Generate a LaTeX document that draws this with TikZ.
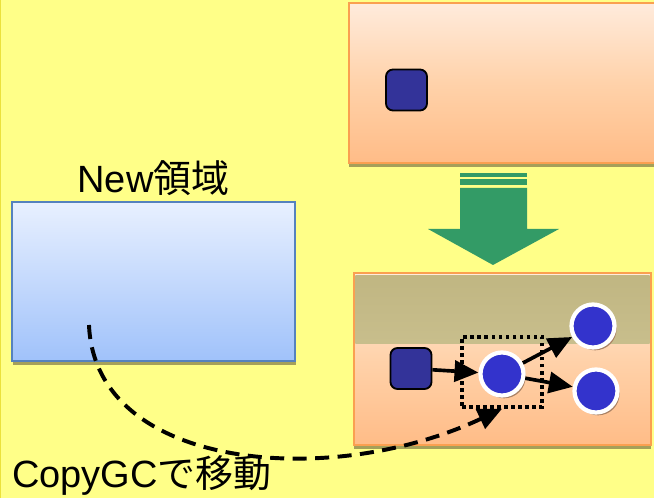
\documentclass[tikz,border=0pt]{standalone}
\usepackage{fontspec}
\setmainfont{Liberation Sans}
\newfontfamily\jpfont{Noto Sans CJK JP}
\usetikzlibrary{arrows.meta,positioning,shadows}

\definecolor{bgyellow}{RGB}{255,255,136}
\definecolor{edgeyellow}{RGB}{235,225,60}
\definecolor{peachtop}{RGB}{255,235,220}
\definecolor{peachmid}{RGB}{255,210,170}
\definecolor{peachbot}{RGB}{255,188,135}
\definecolor{orangeline}{RGB}{250,160,80}
\definecolor{bandtop}{RGB}{192,182,130}
\definecolor{bandbot}{RGB}{200,190,140}
\definecolor{bluetop}{RGB}{232,240,255}
\definecolor{bluebot}{RGB}{160,194,250}
\definecolor{blueline}{RGB}{85,130,190}
\definecolor{shadowolive}{RGB}{165,160,90}
\definecolor{objdark}{RGB}{51,51,153}
\definecolor{objblue}{RGB}{51,51,204}
\definecolor{objshadow}{RGB}{170,130,100}
\definecolor{movegreen}{RGB}{51,155,102}

\begin{document}
\begin{tikzpicture}[x=0.025cm,y=-0.025cm,semithick]
\tikzstyle{area}=[rectangle,inner sep=0pt,outer sep=0pt,draw=orangeline,line width=1.8pt,shading=axis,top color=peachtop,bottom color=peachbot,middle color=peachmid,drop shadow={shadow xshift=0pt,shadow yshift=-2.5pt,fill=shadowolive,opacity=1}]
\tikzstyle{newarea}=[rectangle,inner sep=0pt,outer sep=0pt,draw=blueline,line width=1.2pt,shading=axis,top color=bluetop,bottom color=bluebot,drop shadow={shadow xshift=1pt,shadow yshift=-2.5pt,fill=shadowolive,opacity=1}]
\tikzstyle{obj}=[rectangle,rounded corners=5pt,minimum size=1.025cm,fill=objdark,draw=black,line width=1.3pt]
\tikzstyle{live}=[circle,minimum size=1.075cm,fill=objblue,draw=white,line width=3pt,drop shadow={shadow xshift=1.5pt,shadow yshift=-2pt,fill=objshadow,opacity=1}]
\tikzstyle{ref}=[-{Triangle[length=17pt,width=15pt]},line width=2.6pt]
\tikzstyle{copy}=[-{Triangle[length=17pt,width=15pt]},line width=2.8pt,dash pattern=on 10pt off 6pt]
\tikzstyle{areatext}=[font=\fontsize{27}{30}\selectfont]

\fill[bgyellow] (0,0) rectangle (654,498);
\useasboundingbox (0,0) rectangle (654,498);
\clip (0,0) rectangle (654,498);
\draw[edgeyellow,line width=1pt] (0,0) -- (0,498);

% before GC
\node[area,minimum width=7.675cm,minimum height=4cm] (before) at (502.5,83) {};
\node[obj] (obj1) at (406.5,90) {};

% green arrow
\fill[movegreen] (460,173) rectangle (527,177);
\fill[movegreen] (460,179) rectangle (527,185);
\fill[movegreen] (460,188) -- (527,188) -- (527,229) -- (559,229) -- (493,265)
  -- (428,229) -- (460,229) -- cycle;

% after GC
\node[area,minimum width=7.425cm,minimum height=4.3cm] (after) at (502.5,359) {};
\node[rectangle,inner sep=0pt,minimum width=7.35cm,minimum height=1.7cm,anchor=north,
  shading=axis,top color=bandtop,bottom color=bandbot] (band) at ([yshift=-1.2pt]after.north) {};
\draw[orangeline,line width=1.8pt] (after.north west) rectangle (after.south east);

\node[draw,dash pattern=on 2.6pt off 2.4pt,line width=2.6pt,minimum width=2cm,minimum height=1.75cm] (sel) at (502,372) {};
\node[obj] (obj2) at (411,368.5) {};
\node[live] (mid) at (502,374) {};
\node[live] (up) at (593,326) {};
\node[live] (down) at (596,391) {};

\path (obj2) edge[ref] (mid);
\path (mid) edge[ref] (up);
\path (mid) edge[ref] (down);

% New area
\node[newarea,minimum width=7.075cm,minimum height=3.975cm] (newgen) at (153.5,281.5) {};
\node[areatext] (newlabel) [above=1pt of newgen] {New{\jpfont 領域}};

\coordinate (src) at (89,325);
\draw[copy] (src) .. controls (95,470) and (330,490) .. (sel.south);
\node[areatext] (copylabel) at (142,475) {CopyGC{\jpfont で移動}};

\end{tikzpicture}
\end{document}
